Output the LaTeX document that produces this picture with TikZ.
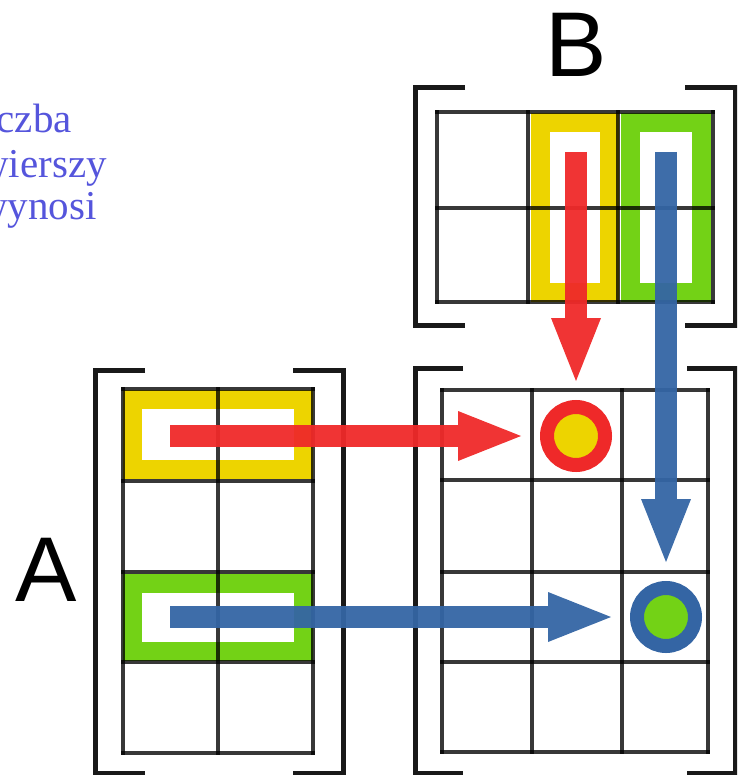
\documentclass[tikz,border=0pt]{standalone}
\usepackage{fontspec}
\setmainfont{Liberation Serif}
\newfontfamily\labelfont{Liberation Sans}
\usetikzlibrary{arrows.meta}
\definecolor{tyellow}{HTML}{EDD400}
\definecolor{tgreen}{HTML}{73D216}
\definecolor{tred}{HTML}{EF2929}
\definecolor{tblue}{HTML}{3465A4}
\definecolor{ttext}{RGB}{85,85,220}
\begin{document}
\begin{tikzpicture}[x=1pt,y=-1pt,
  gridline/.style={draw=black,draw opacity=0.78,line width=4.5pt,line cap=rect},
  band/.style={line width=19pt},
  bracket/.style={draw=black!90,line width=5pt},
  arrowline/.style={line width=22pt,opacity=0.95,-{Triangle[length=63pt 0,width=50pt 0,line width=0pt]},shorten >=19pt},
  ring/.style={circle,minimum size=58pt,inner sep=0pt,line width=14pt},
  big/.style={font=\labelfont\fontsize{92}{92}\selectfont,inner sep=0pt,anchor=base},
  words/.style={font=\fontsize{41}{44}\selectfont,text=ttext,inner sep=0pt,anchor=base east}]
\useasboundingbox (0,0) rectangle (737,775);
\clip (0,0) rectangle (737,775);
% text at top left
\node[words] (w1) at (72,133) {liczba};
\node[words] (w2) at (107,178) {wierszy};
\node[words] (w3) at (97,220) {wynosi};
% labels
\node[big] (lb) at (576,77) {B};
\node[big] (la) at (46,601) {A};
% colour bands
\draw[band,tyellow] (132,399) rectangle (303,469);
\draw[band,tgreen] (132,583) rectangle (303,651);
\draw[band,tyellow] (540,123) rectangle (609,292);
\draw[band,tgreen] (630,123) rectangle (701,292);
% matrix A grid
\foreach \x in {123,218,313} \draw[gridline] (\x,389) -- (\x,753);
\foreach \y in {389,481,572,662,753} \draw[gridline] (123,\y) -- (313,\y);
% matrix B grid
\foreach \x in {437,528,618,713} \draw[gridline] (\x,112) -- (\x,302);
\foreach \y in {112,208,302} \draw[gridline] (437,\y) -- (713,\y);
% matrix C grid
\foreach \x in {442,532,622,708} \draw[gridline] (\x,390) -- (\x,752);
\foreach \y in {390,480,572,662,752} \draw[gridline] (442,\y) -- (708,\y);
% brackets
\draw[bracket] (145,370) -- (95,370) -- (95,773) -- (145,773);
\draw[bracket] (293,370) -- (343,370) -- (343,773) -- (293,773);
\draw[bracket] (465,88) -- (415,88) -- (415,325) -- (465,325);
\draw[bracket] (685,88) -- (735,88) -- (735,325) -- (685,325);
\draw[bracket] (463,368) -- (415,368) -- (415,773) -- (463,773);
\draw[bracket] (687,368) -- (735,368) -- (735,773) -- (687,773);
% result circles
\node[ring,draw=tred,fill=tyellow] (cy) at (576,436) {};
\node[ring,draw=tblue,fill=tgreen] (cg) at (666,617) {};
% arrow start points
\coordinate (ra) at (170,436);
\coordinate (rb) at (576,152);
\coordinate (ba) at (170,617);
\coordinate (bb) at (666,152);
% arrows
\draw[arrowline,tred] (ra) -- (cy);
\draw[arrowline,tred] (rb) -- (cy);
\draw[arrowline,tblue] (ba) -- (cg);
\draw[arrowline,tblue] (bb) -- (cg);
\end{tikzpicture}
\end{document}
